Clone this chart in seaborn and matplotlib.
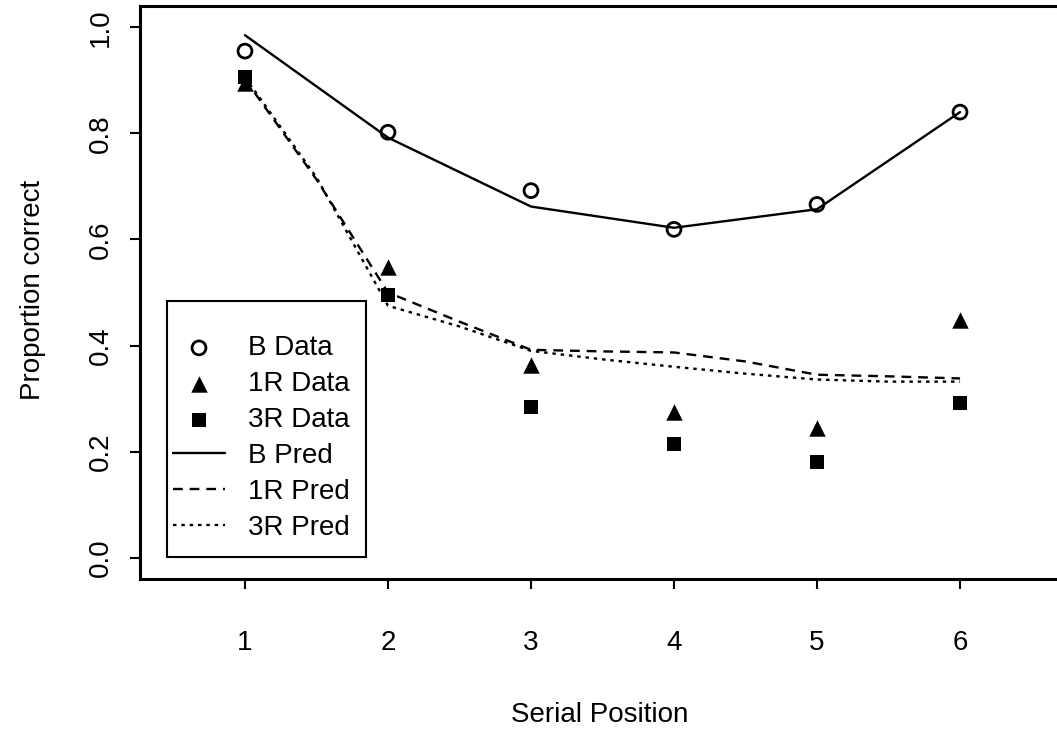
import numpy as np
import pandas as pd
import matplotlib
matplotlib.use('Agg')
import matplotlib.pyplot as plt
from matplotlib.patches import Rectangle
import seaborn as sns

positions = [1, 2, 3, 4, 5, 6]
b_data = [0.955, 0.802, 0.692, 0.619, 0.666, 0.840]
r1_data = [0.895, 0.549, 0.364, 0.274, 0.245, 0.449]
r3_data = [0.906, 0.496, 0.285, 0.215, 0.181, 0.291]

b_pred = [0.985, 0.792, 0.662, 0.622, 0.657, 0.840]
pred_positions = [1, 1.5, 2, 2.5, 3, 3.5, 4, 4.5, 5, 5.5, 6]
r1_pred = [0.902, 0.713, 0.500, 0.445, 0.392, 0.389, 0.387, 0.370, 0.345, 0.342, 0.338]
r3_pred = [0.906, 0.717, 0.475, 0.436, 0.390, 0.374, 0.360, 0.347, 0.336, 0.332, 0.332]

y_ticks = [0.0, 0.2, 0.4, 0.6, 0.8, 1.0]

sns.set_style('white')
plt.rcParams['font.family'] = ['Liberation Sans', 'DejaVu Sans']
plt.rcParams['text.color'] = 'black'
plt.rcParams['axes.labelcolor'] = 'black'
plt.rcParams['lines.scale_dashes'] = False

fig = plt.figure(figsize=(10.57, 7.35), dpi=100)
ax = fig.add_axes([140 / 1057, 1 - 579 / 735, 925 / 1057, 573 / 735])

lw = 1.7
sns.lineplot(x=positions, y=b_pred, ax=ax, color='black', lw=lw, label='B Pred')
sns.lineplot(x=pred_positions, y=r1_pred, ax=ax, color='black', lw=lw,
             linestyle=(0, (7, 5)), label='1R Pred')
sns.lineplot(x=pred_positions, y=r3_pred, ax=ax, color='black', lw=lw,
             linestyle=(0, (2.5, 3.5)), label='3R Pred')

sns.scatterplot(x=positions, y=b_data, ax=ax, marker='o', s=100,
                facecolors='none', edgecolor='black', linewidth=2.0, label='B Data', zorder=3)
sns.scatterplot(x=positions, y=r1_data, ax=ax, marker='^', s=140,
                color='black', edgecolor='black', linewidth=0, label='1R Data', zorder=3)
sns.scatterplot(x=positions, y=r3_data, ax=ax, marker='s', s=100,
                color='black', edgecolor='black', linewidth=0, label='3R Data', zorder=3)

ax.set_xlim(0.266, 6.734)
ax.set_ylim(-0.04, 1.04)
ax.set_xticks(positions)
ax.set_yticks(y_ticks)
ax.set_yticklabels([f'{v:.1f}' for v in y_ticks], rotation=90, va='center')

for side in ['left', 'right', 'top', 'bottom']:
    ax.spines[side].set_visible(True)
    ax.spines[side].set_color('black')
    ax.spines[side].set_linewidth(2.2)

ax.tick_params(axis='both', direction='out', length=7, width=1.5, color='black',
               labelsize=20, labelcolor='black', left=True, bottom=True)
ax.tick_params(axis='x', pad=30)
ax.tick_params(axis='y', pad=12)

ax.set_xlabel('Serial Position', fontsize=20)
ax.set_ylabel('Proportion correct', fontsize=20)
ax.xaxis.label.set_va('center')
ax.xaxis.set_label_coords(0.497, -0.237)
ax.yaxis.label.set_va('center')
ax.yaxis.set_label_coords(-0.116, 0.504)

# legend box (R-style, taller than its contents)
ax.add_patch(Rectangle((0.0292, 0.0384), 0.215, 0.4468, transform=ax.transAxes,
                       facecolor='white', edgecolor='black', linewidth=1.5, zorder=4))

handles, labels = ax.get_legend_handles_labels()
order = ['B Data', '1R Data', '3R Data', 'B Pred', '1R Pred', '3R Pred']
lookup = dict(zip(labels, handles))
leg = ax.legend([lookup[k] for k in order], order, loc='lower left',
                bbox_to_anchor=(0.0357, 0.066), fontsize=20, frameon=False,
                handlelength=1.87, handletextpad=0.83, labelspacing=0.36,
                borderpad=0, borderaxespad=0)
leg.set_zorder(5)

fig.savefig('out.png', dpi=100)
